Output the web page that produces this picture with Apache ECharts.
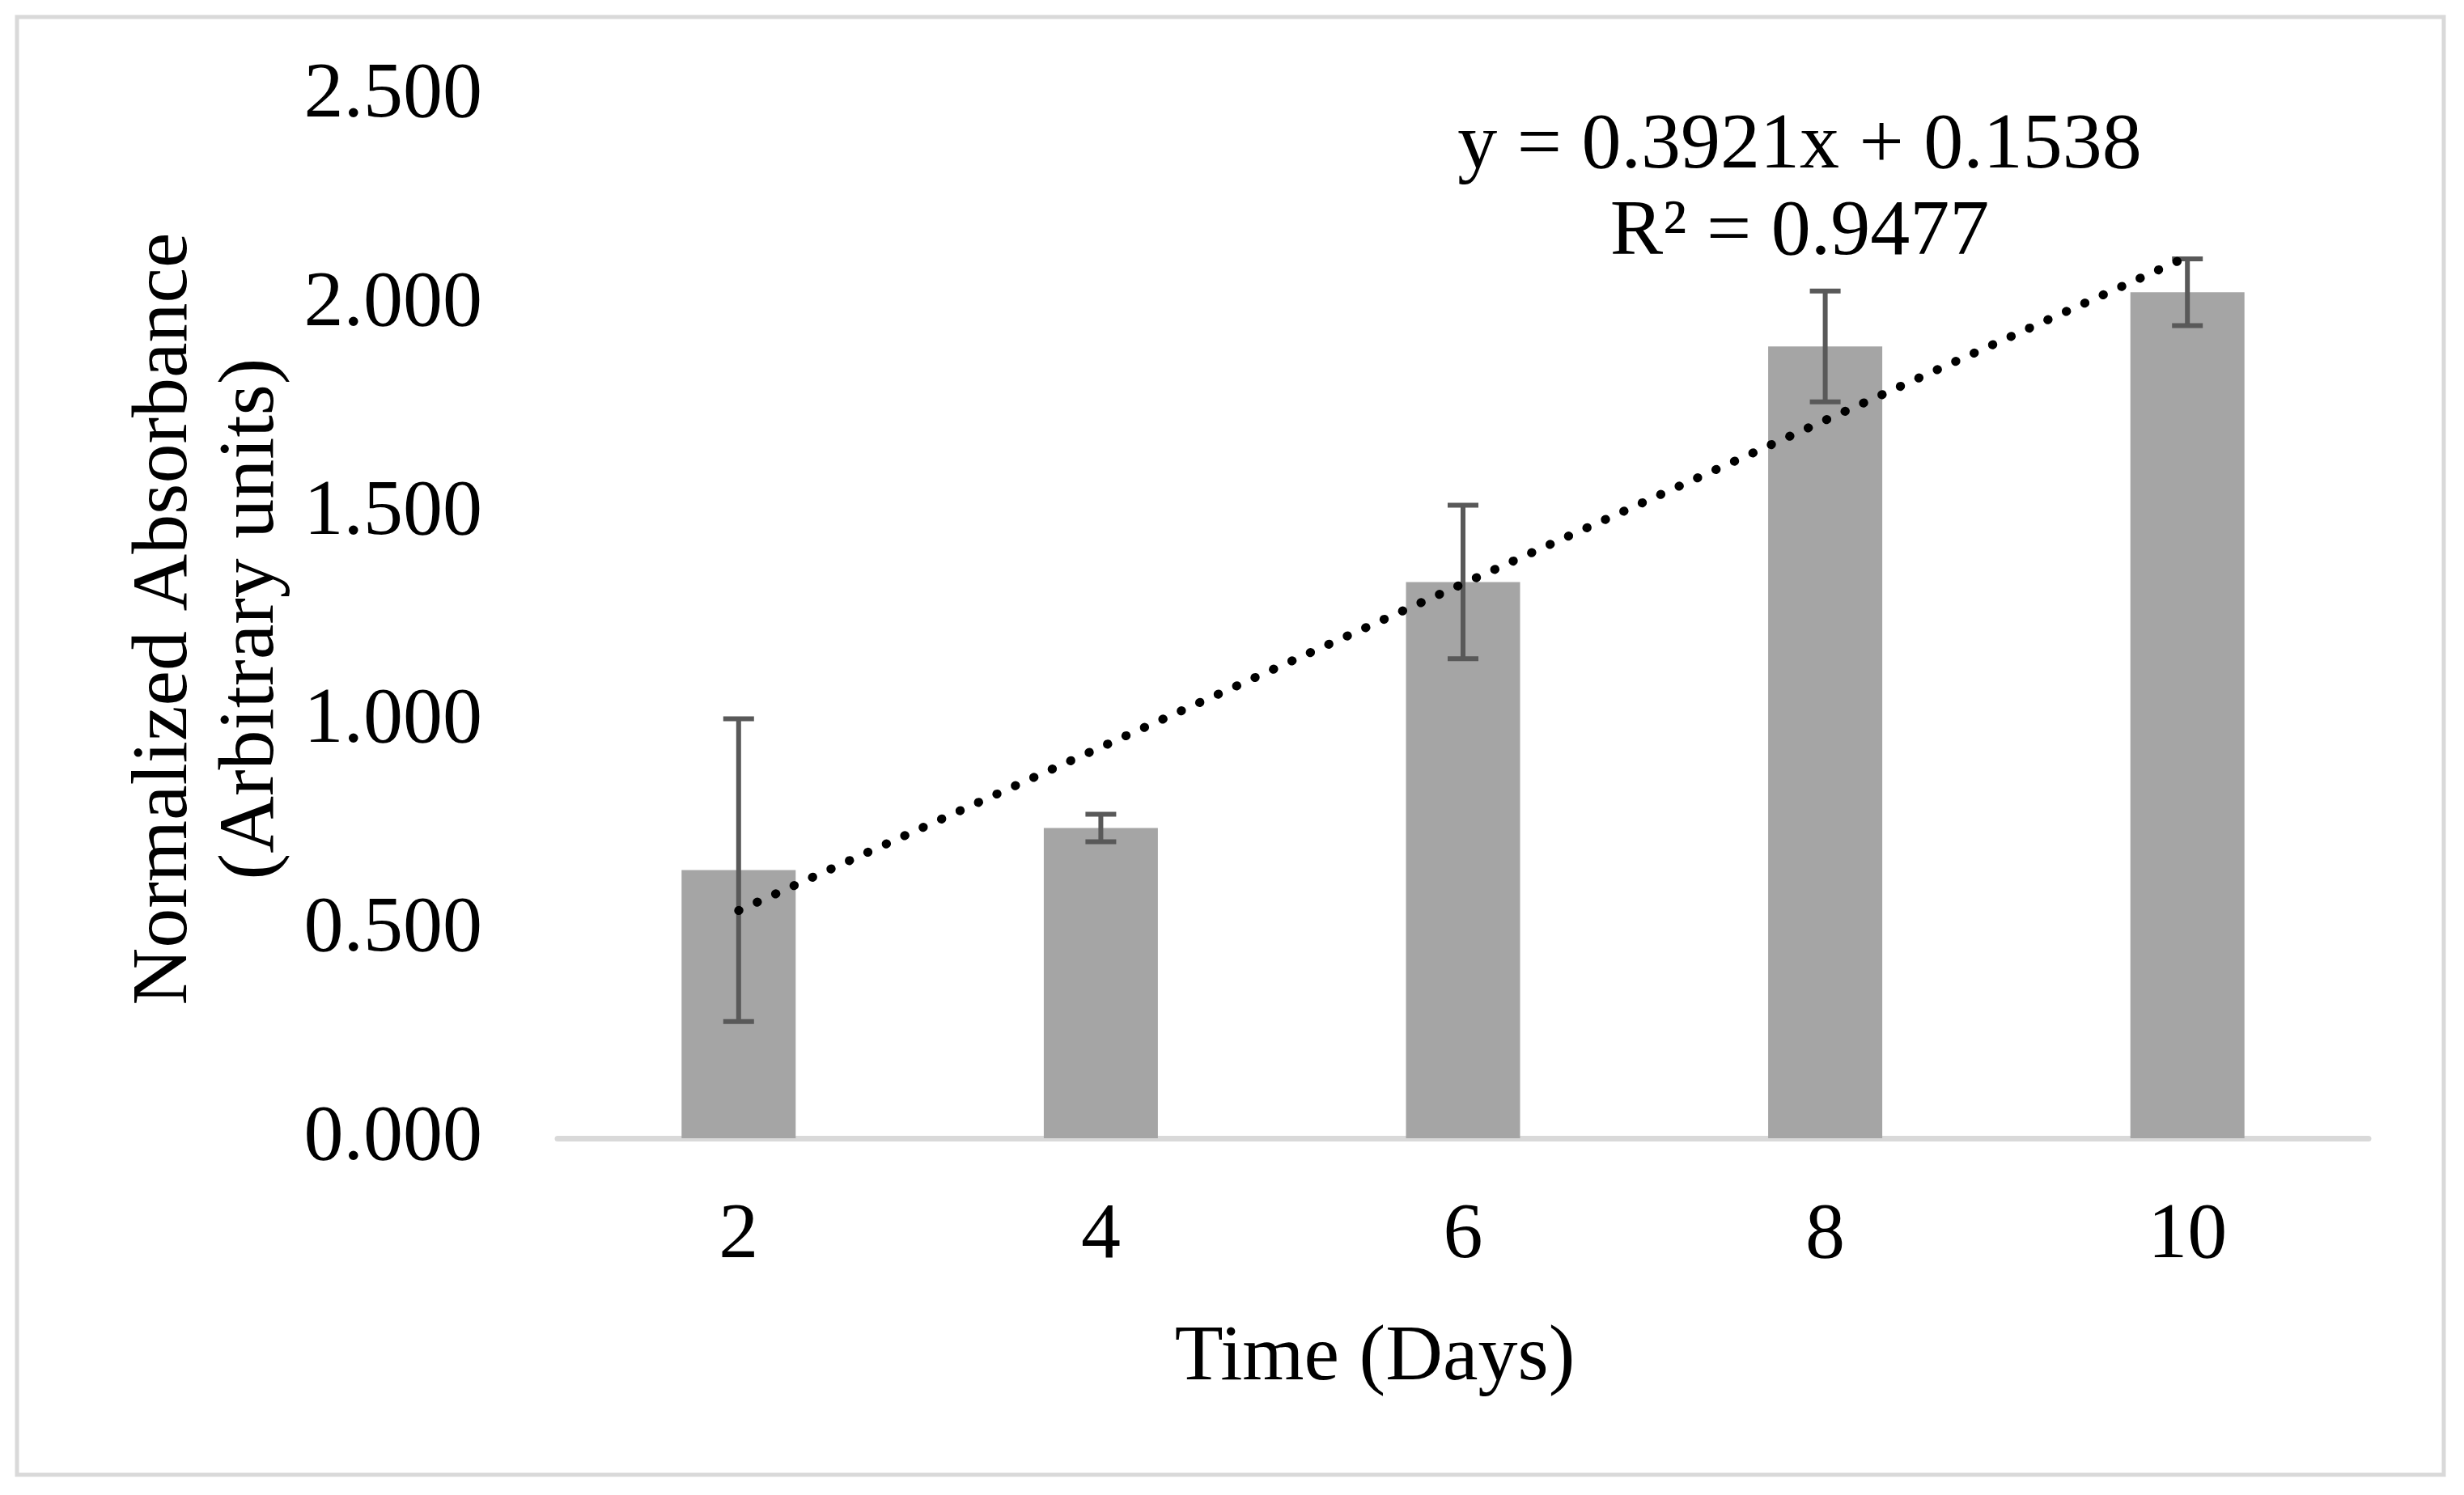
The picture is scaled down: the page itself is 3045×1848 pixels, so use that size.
<!DOCTYPE html>
<html>
<head>
<meta charset="utf-8">
<script src="https://cdn.jsdelivr.net/npm/echarts@6/dist/echarts.min.js"></script>
<style>
html,body{margin:0;padding:0;background:#fff;}
#chart{width:3045px;height:1848px;}
</style>
</head>
<body>
<div id="chart"></div>
<script>
// ---- data ----
const categories = ['2', '4', '6', '8', '10'];
const meanValues = [0.643, 0.744, 1.334, 1.899, 2.029];
const errorValues = [0.363, 0.033, 0.184, 0.133, 0.080];
const trendCategories = ['2', '10'];
const trendValues = [0.546, 2.114];
const yTicks = [0, 0.5, 1.0, 1.5, 2.0, 2.5];
const equationText = 'y = 0.3921x + 0.1538';
const r2Text = 'R² = 0.9477';
const xTitle = 'Time (Days)';
const yTitleLines = ['Normalized Absorbance', '(Arbitrary units)'];

const FONT = '"Liberation Serif", "Times New Roman", serif';
const FS = 98;

const errorData = categories.map((c, i) => [i, meanValues[i] - errorValues[i], meanValues[i] + errorValues[i]]);
const trendData = trendCategories.map((c, i) => [c, trendValues[i]]);

const chart = echarts.init(document.getElementById('chart'), null, {renderer: 'canvas'});
chart.setOption({
  animation: false,
  backgroundColor: '#ffffff',
  grid: {left: 689, right: 118, top: 118.5, bottom: 441, containLabel: false},
  xAxis: {
    type: 'category',
    data: categories,
    boundaryGap: true,
    axisLine: {show: true, lineStyle: {color: '#D9D9D9', width: 7}},
    axisTick: {show: false},
    axisLabel: {fontFamily: FONT, fontSize: FS, color: '#000', margin: 72},
    splitLine: {show: false}
  },
  yAxis: {
    type: 'value',
    min: yTicks[0],
    max: yTicks[yTicks.length - 1],
    interval: yTicks[1] - yTicks[0],
    axisLine: {show: false},
    axisTick: {show: false},
    splitLine: {show: false},
    axisLabel: {
      fontFamily: FONT, fontSize: FS, color: '#000', margin: 93,
      formatter: v => v.toFixed(3)
    }
  },
  graphic: [
    {type: 'rect', shape: {x: 21, y: 21, width: 2999, height: 1802}, style: {fill: 'none', stroke: '#D9D9D9', lineWidth: 5}, silent: true, z: -10},
    {type: 'text', x: 1699, y: 1679, style: {text: xTitle, font: FS + 'px ' + FONT, fill: '#000', align: 'center', verticalAlign: 'middle'}},
    {type: 'text', x: 204, y: 765, rotation: Math.PI / 2, style: {text: yTitleLines[0], font: FS + 'px ' + FONT, fill: '#000', align: 'center', verticalAlign: 'middle'}},
    {type: 'text', x: 311, y: 765, rotation: Math.PI / 2, style: {text: yTitleLines[1], font: FS + 'px ' + FONT, fill: '#000', align: 'center', verticalAlign: 'middle'}},
    {type: 'text', x: 2224, y: 181, style: {text: equationText, font: FS + 'px ' + FONT, fill: '#000', align: 'center', verticalAlign: 'middle'}},
    {type: 'text', x: 2224, y: 288, style: {text: r2Text, font: FS + 'px ' + FONT, fill: '#000', align: 'center', verticalAlign: 'middle'}}
  ],
  series: [
    {
      type: 'bar',
      data: meanValues,
      barWidth: 141,
      itemStyle: {color: '#A5A5A5'},
      z: 2
    },
    {
      type: 'custom',
      data: errorData,
      z: 3,
      renderItem: function (params, api) {
        const idx = api.value(0);
        const lo = api.coord([idx, api.value(1)]);
        const hi = api.coord([idx, api.value(2)]);
        const half = 19;
        const st = {stroke: '#595959', lineWidth: 6};
        return {
          type: 'group',
          children: [
            {type: 'line', shape: {x1: hi[0], y1: hi[1], x2: lo[0], y2: lo[1]}, style: st},
            {type: 'line', shape: {x1: hi[0] - half, y1: hi[1], x2: hi[0] + half, y2: hi[1]}, style: st},
            {type: 'line', shape: {x1: lo[0] - half, y1: lo[1], x2: lo[0] + half, y2: lo[1]}, style: st}
          ]
        };
      }
    },
    {
      type: 'line',
      data: trendData,
      symbol: 'none',
      z: 4,
      lineStyle: {color: '#000', width: 11, type: [0.5, 24.5], cap: 'round'}
    }
  ]
});
</script>
</body>
</html>
